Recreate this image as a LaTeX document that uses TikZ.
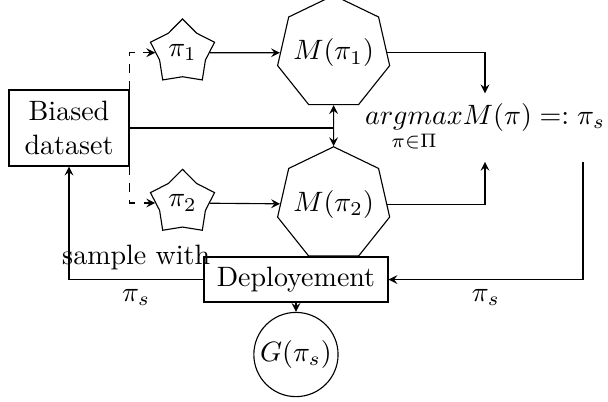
\documentclass[tikz,border=0pt]{standalone}
\usepackage{amsmath}
\usetikzlibrary{shapes.geometric}
\begin{document}
\begin{tikzpicture}[>=stealth,
    policy/.style={star, star points=5, star point ratio=1.4, draw, inner sep=0pt, minimum size=0.846cm},
    model/.style={regular polygon, regular polygon sides=7, draw, inner sep=-1.3pt}]
    \useasboundingbox (0,0) rectangle (7.632,5.046);

    % Nodes
    \node[draw, align=center, minimum width=1.506cm, minimum height=0.954cm] (biased) at (0.866,3.439) {Biased\\dataset};
    \node[policy] (p1) at (2.291,4.385) {$\pi_1$};
    \node[policy] (p2) at (2.291,2.498) {$\pi_2$};
    \node[model] (M1) at (4.188,4.383) {$M(\pi_1)$};
    \node[model] (M2) at (4.188,2.482) {$M(\pi_2)$};
    \node[] (argmax) at (6.088,3.445) {$\underset{\pi\in\Pi}{argmax} M(\pi) =: \pi_s$};
    \coordinate (sel) at ([xshift=1.23cm]argmax.south);
    \node[draw, minimum width=2.31cm, minimum height=0.565cm] (deploy) at (3.715,1.537) {Deployement};
    \node[circle, draw, inner sep=1pt, minimum size=1.054cm] (G) at (3.715,0.596) {$G(\pi_s)$};

    % Edges
    \draw[dashed, ->] (biased.north east) |- (p1);
    \draw[dashed, ->] (biased.south east) |- (p2);
    \draw[->] (p1) -- (M1);
    \draw[->] (p2) -- (M2);
    \draw[<->] (M1) -- (M2);
    \draw (biased) -- (biased -| M1);
    \draw[->] (M1) -| (argmax);
    \draw[->] (M2) -| (argmax);
    \draw[->] (sel) |- node[pos=0.75, below] {$\pi_s$} (deploy);
    \draw[->] (deploy) -| node[pos=0.25, above] {sample with} node[pos=0.25, below] {$\pi_s$} (biased);
    \draw[->] (deploy) -- (G);
\end{tikzpicture}
\end{document}
